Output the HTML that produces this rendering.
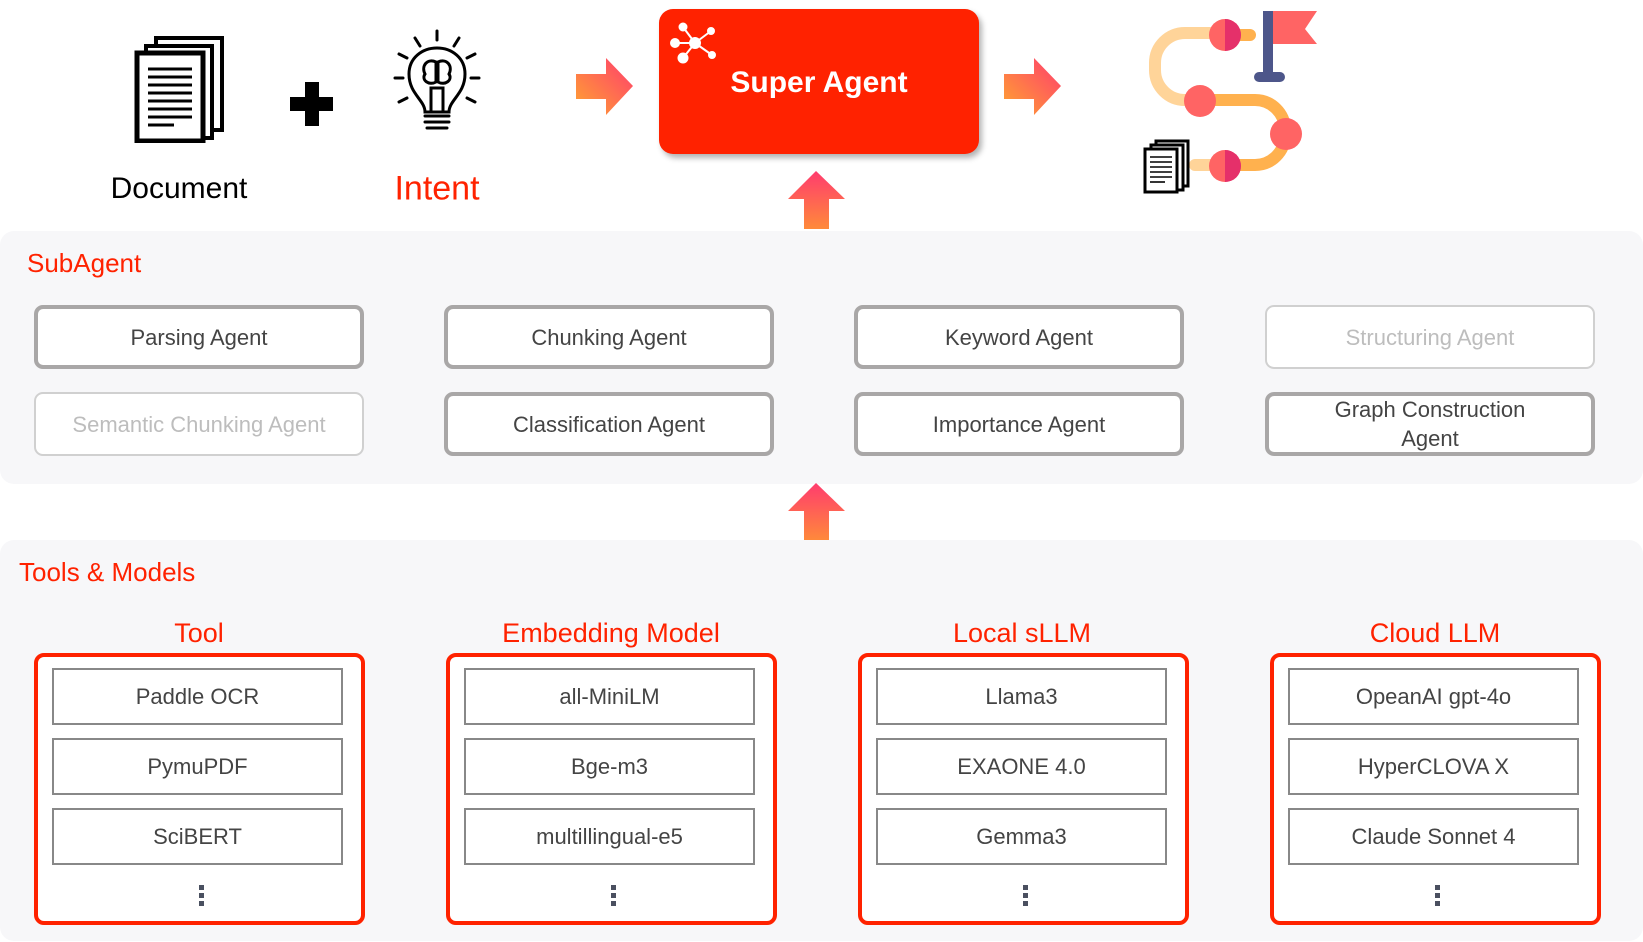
<!DOCTYPE html>
<html><head><meta charset="utf-8"><style>
*{margin:0;padding:0;box-sizing:border-box}
body{width:1643px;height:942px;background:#fff;position:relative;overflow:hidden;font-family:"Liberation Sans","Noto Sans CJK KR",sans-serif}
.a{position:absolute}
.t{position:absolute;white-space:nowrap;transform:translate(-50%,-50%)}
.panel{position:absolute;left:0;width:1643px;background:#f7f7f9;border-radius:14px}
.ag{position:absolute;width:330px;height:64px;border:4px solid #a9a7a7;border-radius:9px;background:#fff;color:#444;font-size:22px;display:flex;align-items:center;justify-content:center;text-align:center;line-height:29px}
.ag.f{border:2px solid #d0d0d0;color:#bdbdbd}
.rb{position:absolute;width:331px;height:272px;border:4px solid #ff2200;border-radius:10px;background:#fff}
.it{position:absolute;left:14px;width:291px;height:57px;border:2px solid #888;background:#fff;color:#444;font-size:22px;display:flex;align-items:center;justify-content:center}
.dots{position:absolute;left:50%;top:228px;width:5px;height:5px;margin-left:-1px;background:#4a5060;box-shadow:0 8px 0 #4a5060,0 16px 0 #4a5060}
.ct{position:absolute;color:#ff2200;font-size:27px;transform:translateX(-50%);white-space:nowrap}
</style></head><body>

<svg class="a" style="left:134px;top:35px" width="95" height="108" viewBox="0 0 95 108">
<rect x="22" y="3" width="66" height="92" fill="#fff" stroke="#000" stroke-width="4"/>
<rect x="12" y="11" width="66" height="92" fill="#fff" stroke="#000" stroke-width="4"/>
<rect x="3" y="18" width="66" height="88" fill="#fff" stroke="#000" stroke-width="5"/>
<g stroke="#000" stroke-width="3">
<line x1="14" y1="34" x2="58" y2="34"/><line x1="14" y1="42" x2="58" y2="42"/><line x1="14" y1="50" x2="58" y2="50"/><line x1="14" y1="58" x2="58" y2="58"/><line x1="14" y1="66" x2="58" y2="66"/><line x1="14" y1="74" x2="58" y2="74"/><line x1="14" y1="82" x2="58" y2="82"/><line x1="14" y1="90" x2="40" y2="90"/></g>
</svg>
<div class="t" style="left:179px;top:189px;font-size:30px;color:#000">Document</div>
<div class="a" style="left:290px;top:97px;width:43px;height:14px;background:#000"></div>
<div class="a" style="left:305px;top:82px;width:14px;height:44px;background:#000"></div>
<svg class="a" style="left:385px;top:28px" width="105" height="110" viewBox="0 0 105 110" fill="none" stroke="#000" stroke-width="3" stroke-linecap="round">
<line x1="52" y1="3" x2="52" y2="12"/><line x1="30" y1="10" x2="35" y2="18"/><line x1="74" y1="10" x2="69" y2="18"/>
<line x1="14" y1="26" x2="22" y2="30"/><line x1="90" y1="26" x2="82" y2="30"/><line x1="10" y1="50" x2="18" y2="50"/><line x1="86" y1="50" x2="94" y2="50"/>
<line x1="14" y1="74" x2="22" y2="70"/><line x1="90" y1="74" x2="82" y2="70"/>
<path d="M40 84 C40 72 24 66 24 46 C24 30 37 20 52 20 C67 20 80 30 80 46 C80 66 64 72 64 84 Z"/>
<path d="M46 84 L46 60 L58 60 L58 84 M40 88 L64 88 M40 94 L64 94 M42 100 L62 100"/>
<path d="M51 34 C42 30 36 38 40 46 C36 52 44 58 51 54 Z M53 34 C62 30 68 38 64 46 C68 52 60 58 53 54 Z"/>
</svg>
<div class="t" style="left:437px;top:189px;font-size:34px;color:#ff2200">Intent</div>

<svg width="0" height="0" style="position:absolute"><defs>
<linearGradient id="gr" x1="0" y1="1" x2="1" y2="0"><stop offset="0" stop-color="#ffa530"/><stop offset="1" stop-color="#ff3c6e"/></linearGradient>
<linearGradient id="gu" x1="0" y1="1" x2="0" y2="0"><stop offset="0" stop-color="#ff8a3a"/><stop offset="1" stop-color="#ff3c6e"/></linearGradient>
</defs></svg>
<svg class="a" style="left:576px;top:58px" width="58" height="57"><path d="M0 16 H30 V0 L57 28 L30 57 V41 H0 Z" fill="url(#gr)"/></svg>
<svg class="a" style="left:1004px;top:58px" width="58" height="57"><path d="M0 16 H30 V0 L57 28 L30 57 V41 H0 Z" fill="url(#gr)"/></svg>

<div class="a" style="left:659px;top:9px;width:320px;height:145px;background:#ff2200;border-radius:14px;box-shadow:3px 4px 6px rgba(0,0,0,.3)"></div>
<svg class="a" style="left:670px;top:20px" width="55" height="45" stroke="#fff" stroke-width="2" fill="#fff">
<line x1="25" y1="23" x2="13" y2="7"/><line x1="25" y1="23" x2="41" y2="11"/><line x1="25" y1="23" x2="5" y2="23"/><line x1="25" y1="23" x2="13" y2="38"/><line x1="25" y1="23" x2="42" y2="35"/>
<circle cx="25" cy="23" r="5"/><circle cx="13" cy="7" r="3.5"/><circle cx="41" cy="11" r="3"/><circle cx="5" cy="23" r="4"/><circle cx="13" cy="38" r="4.5"/><circle cx="42" cy="35" r="3"/></svg>
<div class="t" style="left:819px;top:83px;font-size:30px;color:#fff;font-weight:bold">Super Agent</div>

<svg class="a" style="left:1140px;top:8px" width="185" height="190" viewBox="1140 8 185 190">
<path d="M1225 33 H1185 A30 30 0 0 0 1155 63 V70 A30 30 0 0 0 1185 100 H1205" fill="none" stroke="#ffd499" stroke-width="12"/>
<path d="M1205 100 H1255 A30 30 0 0 1 1285 130 V135 A30 30 0 0 1 1255 165 H1225" fill="none" stroke="#ffb14e" stroke-width="12"/>
<line x1="1195" y1="165" x2="1225" y2="165" stroke="#ffd499" stroke-width="12" stroke-linecap="round"/>
<line x1="1225" y1="35" x2="1250" y2="35" stroke="#ffb14e" stroke-width="12" stroke-linecap="round"/>
<circle cx="1225" cy="35" r="16" fill="#ff6464"/><path d="M1225 19 A16 16 0 0 1 1225 51 Z" fill="#e5306a"/>
<circle cx="1200" cy="101" r="16" fill="#ff6464"/>
<circle cx="1286" cy="134" r="16" fill="#ff6464"/>
<circle cx="1225" cy="166" r="16" fill="#ff6464"/><path d="M1225 150 A16 16 0 0 1 1225 182 Z" fill="#e5306a"/>
<rect x="1263" y="11" width="10" height="68" fill="#4d568a"/><rect x="1254" y="72" width="31" height="10" rx="5" fill="#4d568a"/>
<path d="M1273 11 H1317 L1305 29 L1317 44 H1273 Z" fill="#ff6464"/>
</svg>
<svg class="a" style="left:1143px;top:138px" width="48" height="56" viewBox="0 0 48 56">
<rect x="13" y="3" width="32" height="45" fill="#fff" stroke="#000" stroke-width="3"/>
<rect x="8" y="7" width="32" height="45" fill="#fff" stroke="#000" stroke-width="3"/>
<rect x="2" y="11" width="32" height="43" fill="#fff" stroke="#000" stroke-width="3"/>
<g stroke="#000" stroke-width="1.6"><line x1="7" y1="19" x2="29" y2="19"/><line x1="7" y1="24" x2="29" y2="24"/><line x1="7" y1="29" x2="29" y2="29"/><line x1="7" y1="34" x2="29" y2="34"/><line x1="7" y1="39" x2="29" y2="39"/><line x1="7" y1="44" x2="22" y2="44"/></g>
</svg>

<svg class="a" style="left:788px;top:171px" width="57" height="58"><path d="M16 58 V28 H0 L28 0 L57 28 H41 V58 Z" fill="url(#gu)"/></svg>

<div class="panel" style="top:231px;height:253px"></div>
<div class="a" style="left:27px;top:248px;font-size:26px;color:#ff2200">SubAgent</div>
<div class="ag" style="left:34px;top:305px">Parsing Agent</div>
<div class="ag" style="left:444px;top:305px">Chunking Agent</div>
<div class="ag" style="left:854px;top:305px">Keyword Agent</div>
<div class="ag f" style="left:1265px;top:305px">Structuring Agent</div>
<div class="ag f" style="left:34px;top:392px">Semantic Chunking Agent</div>
<div class="ag" style="left:444px;top:392px">Classification Agent</div>
<div class="ag" style="left:854px;top:392px">Importance Agent</div>
<div class="ag" style="left:1265px;top:392px">Graph Construction<br>Agent</div>

<svg class="a" style="left:788px;top:483px" width="57" height="58"><path d="M16 58 V28 H0 L28 0 L57 28 H41 V58 Z" fill="url(#gu)"/></svg>

<div class="panel" style="top:540px;height:401px"></div>
<div class="a" style="left:19px;top:557px;font-size:26px;color:#ff2200">Tools &amp; Models</div>

<div class="ct" style="left:199px;top:618px">Tool</div>
<div class="ct" style="left:611px;top:618px">Embedding Model</div>
<div class="ct" style="left:1022px;top:618px">Local sLLM</div>
<div class="ct" style="left:1435px;top:618px">Cloud LLM</div>

<div class="rb" style="left:34px;top:653px">
<div class="it" style="top:11px">Paddle OCR</div><div class="it" style="top:81px">PymuPDF</div><div class="it" style="top:151px">SciBERT</div><div class="dots"></div></div>
<div class="rb" style="left:446px;top:653px">
<div class="it" style="top:11px">all-MiniLM</div><div class="it" style="top:81px">Bge-m3</div><div class="it" style="top:151px">multillingual-e5</div><div class="dots"></div></div>
<div class="rb" style="left:858px;top:653px">
<div class="it" style="top:11px">Llama3</div><div class="it" style="top:81px">EXAONE 4.0</div><div class="it" style="top:151px">Gemma3</div><div class="dots"></div></div>
<div class="rb" style="left:1270px;top:653px">
<div class="it" style="top:11px">OpeanAI gpt-4o</div><div class="it" style="top:81px">HyperCLOVA X</div><div class="it" style="top:151px">Claude Sonnet 4</div><div class="dots"></div></div>

</body></html>
